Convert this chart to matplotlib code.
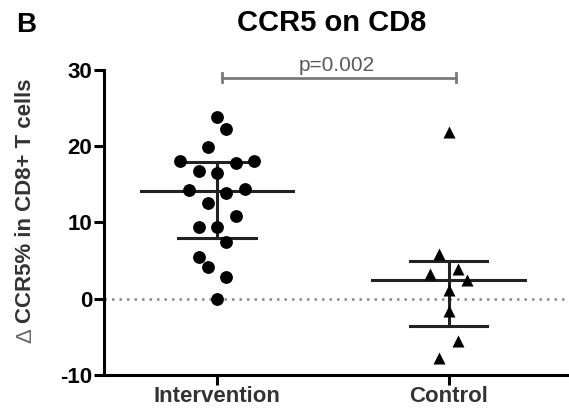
import numpy as np
import matplotlib
matplotlib.use("Agg")
import matplotlib.pyplot as plt

plt.rcParams['font.family'] = ['Liberation Sans', 'DejaVu Sans']

groups = ["Intervention", "Control"]
intervention = [23.8, 22.2, 19.9, 18.0, 17.8, 18.1, 16.8, 16.5, 14.3, 13.9,
                14.4, 12.5, 10.8, 9.4, 9.4, 7.5, 5.5, 4.1, 2.9, 0.0]
control = [21.9, 5.9, 3.3, 3.9, 2.4, 1.2, -1.6, -5.5, -7.8]
p_text = "p=0.002"
yticks = [-10, 0, 10, 20, 30]

# horizontal scatter slots so overlapping points stay visible
slots_int = [0, 1, -1, -4, 2, 4, -2, 0, -3, 1, 3, -1, 2, -2, 0, 1, -2, -1, 1, 0]
slots_ctl = [0, -1, -2, 1, 2, 0, 0, 1, -1]
step = 0.04

fig = plt.figure(figsize=(5.69, 4.19), dpi=100)
ax = fig.add_axes([0.182, 0.105, 0.814, 0.728])

ax.axhline(0, color='#8a8a8a', lw=1.8, ls=(0, (1, 2.0)), zorder=1)

ax.scatter(0 + np.array(slots_int) * step, intervention, marker='o', s=85,
           color='black', zorder=3, linewidths=0)
ax.scatter(1 + np.array(slots_ctl) * step, control, marker='^', s=75,
           color='black', zorder=3, linewidths=0)

for x, vals in zip([0, 1], [intervention, control]):
    q1, med, q3 = np.percentile(vals, [25, 50, 75], method='weibull')
    ax.plot([x - 0.33, x + 0.33], [med, med], color='#222222', lw=2.2, zorder=2)
    ax.plot([x - 0.167, x + 0.167], [q3, q3], color='#222222', lw=2.2, zorder=2)
    ax.plot([x - 0.167, x + 0.167], [q1, q1], color='#222222', lw=2.2, zorder=2)
    ax.plot([x, x], [q1, q3], color='#222222', lw=2.2, zorder=2)

# significance bracket
yb = 29.0
ax.plot([0.02, 1.03], [yb, yb], color='#7a7a7a', lw=2.0, clip_on=False)
for xe in (0.02, 1.03):
    ax.plot([xe, xe], [yb - 0.6, yb + 0.6], color='#7a7a7a', lw=2.0, clip_on=False)
ax.text(0.515, yb + 0.35, p_text, ha='center', va='bottom', fontsize=15,
        color='#5a5a5a')

ax.set_xlim(-0.49, 1.51)
ax.set_ylim(-10, 30)
ax.set_yticks(yticks)
ax.set_yticklabels([str(t) for t in yticks], fontsize=16, fontweight='bold')
ax.set_xticks([0, 1])
ax.set_xticklabels(groups, fontsize=16, fontweight='bold', color='#333333')

for side in ('top', 'right'):
    ax.spines[side].set_visible(False)
for side in ('left', 'bottom'):
    ax.spines[side].set_linewidth(2.2)
ax.tick_params(axis='both', width=2.2, length=7, pad=1)

# y-axis title: light delta sign followed by the bold text
ylab_x = 0.045
ax_y0, ax_y1 = 0.105, 0.833
fig.text(ylab_x, 1 - 343 / 419, "\u0394", rotation=90, ha='center', va='bottom',
         fontsize=16, color='#666666')
fig.text(ylab_x, 1 - 323 / 419, "CCR5% in CD8+ T cells", rotation=90,
         ha='center', va='bottom', fontsize=16, fontweight='bold',
         color='#333333')

fig.text(0.582, 0.945, "CCR5 on CD8", ha='center', va='center',
         fontsize=21, fontweight='bold')
fig.text(0.028, 0.94, "B", ha='left', va='center', fontsize=20,
         fontweight='bold')

fig.savefig("out.png", dpi=100)
